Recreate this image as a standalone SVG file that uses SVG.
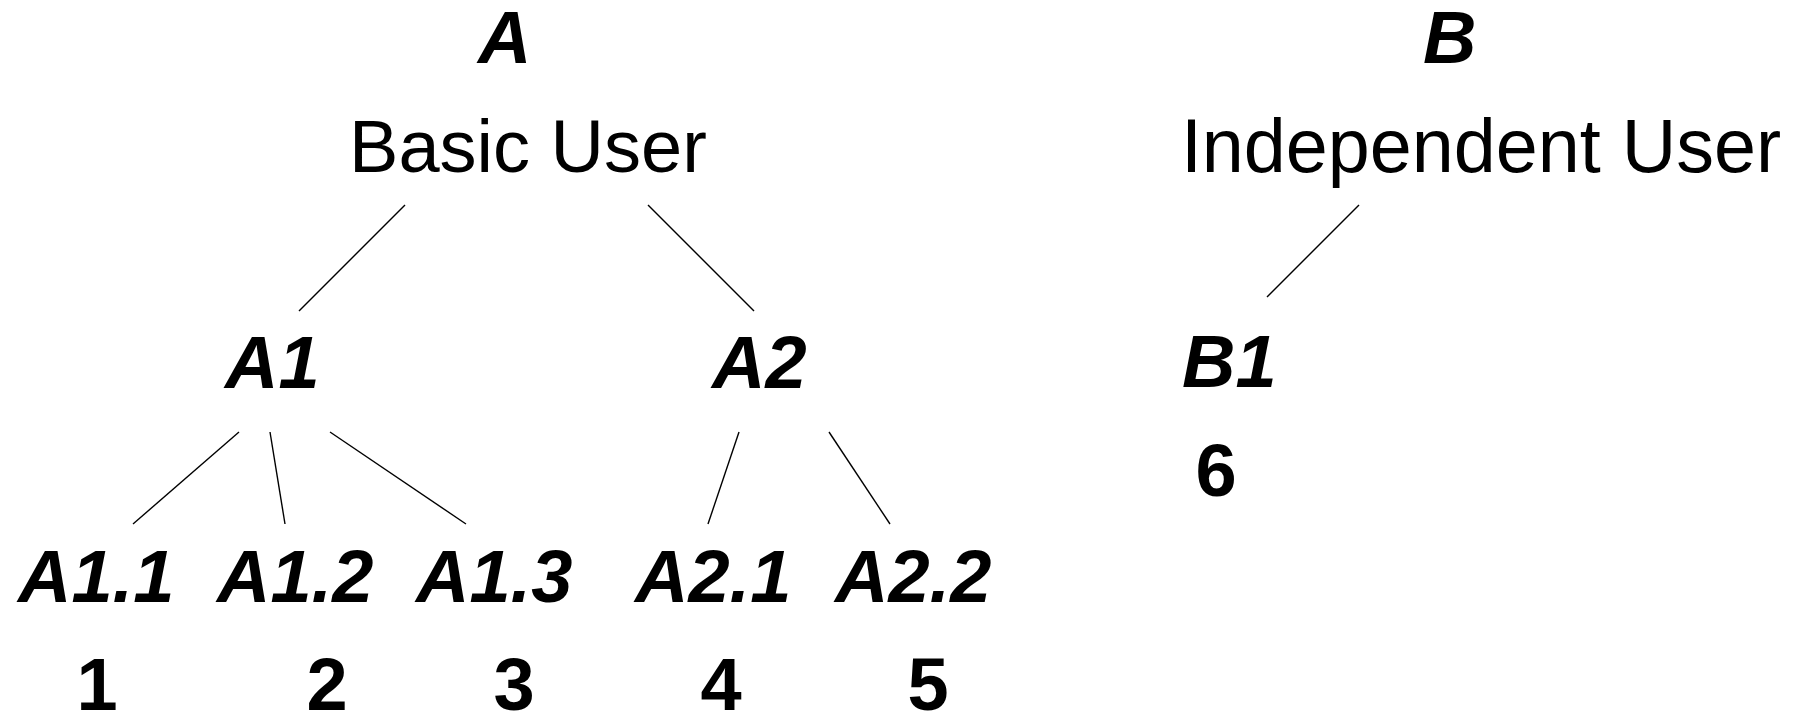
<svg xmlns="http://www.w3.org/2000/svg" width="1798" height="715" viewBox="0 0 1798 715">
<style>
.t{font-family:"Liberation Sans",Arial,sans-serif;font-size:74px;fill:#000}
.bi{font-weight:bold;font-style:italic}
.b{font-weight:bold}
.c{text-anchor:middle}
.e{stroke:#000;stroke-width:1.4;fill:none}
</style>
<rect width="1798" height="715" fill="#fff"/>
<g id="connectors">
<line class="e" x1="405" y1="205" x2="299" y2="311"/>
<line class="e" x1="648" y1="205" x2="754" y2="311"/>
<line class="e" x1="1359" y1="205" x2="1267" y2="297"/>
<line class="e" x1="239" y1="432" x2="133" y2="524"/>
<line class="e" x1="270" y1="432" x2="285" y2="524"/>
<line class="e" x1="330" y1="432" x2="466" y2="524"/>
<line class="e" x1="739" y1="432" x2="708" y2="524"/>
<line class="e" x1="829" y1="432" x2="890" y2="524"/>
</g>
<g id="nodeA"><text class="t bi" x="478" y="63">A</text><text class="t c" x="528" y="172">Basic User</text></g>
<g id="nodeB"><text class="t bi" x="1423" y="63">B</text><text class="t c" x="1481" y="172" style="font-size:75.5px">Independent User</text></g>
<g id="nodeA1"><text class="t bi" x="225" y="388">A1</text></g>
<g id="nodeA2"><text class="t bi" x="712" y="388">A2</text></g>
<g id="nodeB1"><text class="t bi" x="1182" y="387">B1</text><text class="t b c" x="1216" y="496">6</text></g>
<g id="nodeA11"><text class="t bi" x="18" y="602">A1.1</text><text class="t b c" x="97" y="710">1</text></g>
<g id="nodeA12"><text class="t bi" x="217" y="602">A1.2</text><text class="t b c" x="327" y="710">2</text></g>
<g id="nodeA13"><text class="t bi" x="416" y="602">A1.3</text><text class="t b c" x="514" y="710">3</text></g>
<g id="nodeA21"><text class="t bi" x="635" y="602">A2.1</text><text class="t b c" x="721" y="710">4</text></g>
<g id="nodeA22"><text class="t bi" x="835" y="602">A2.2</text><text class="t b c" x="928" y="710">5</text></g>
</svg>
